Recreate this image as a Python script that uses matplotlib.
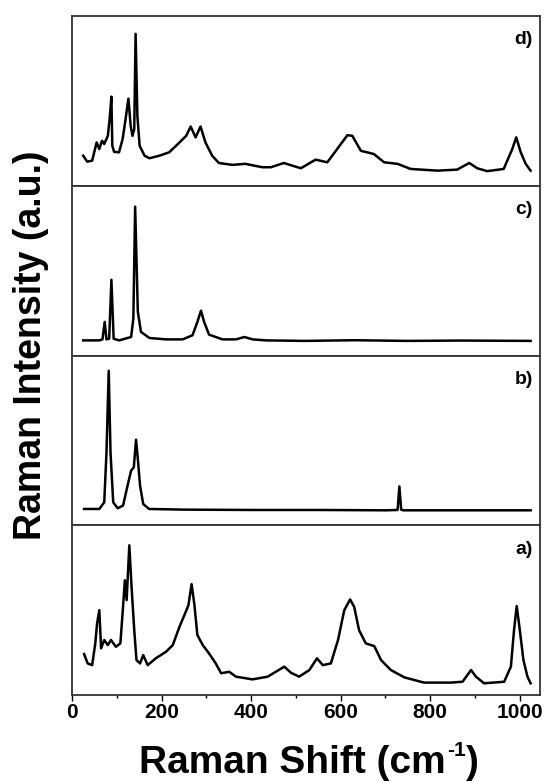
import matplotlib.pyplot as plt
from matplotlib.ticker import MultipleLocator

plt.rcParams["font.family"] = ["Liberation Sans", "DejaVu Sans"]

# spectra, intensity as a fraction of each panel height
d_shift = [25, 34, 45, 55, 61, 67, 72, 80, 84, 88, 90, 94, 105, 113, 118, 126, 131,
           135, 139, 142, 146, 151, 162, 173, 195, 217, 240, 255, 265, 276, 287, 298,
           313, 328, 358, 387, 425, 444, 473, 511, 544, 570, 592, 615, 626, 645, 674,
           697, 727, 756, 816, 860, 887, 905, 927, 964, 983, 992, 1002, 1013, 1024]
d_int = [0.177, 0.142, 0.148, 0.255, 0.216, 0.265, 0.246, 0.294, 0.392, 0.525, 0.236,
         0.200, 0.197, 0.275, 0.363, 0.513, 0.353, 0.294, 0.333, 0.895, 0.411, 0.236,
         0.177, 0.162, 0.177, 0.197, 0.255, 0.294, 0.349, 0.285, 0.349, 0.255, 0.177,
         0.134, 0.123, 0.129, 0.109, 0.109, 0.134, 0.103, 0.154, 0.138, 0.216, 0.298,
         0.294, 0.206, 0.187, 0.138, 0.129, 0.099, 0.089, 0.095, 0.134, 0.103, 0.086,
         0.099, 0.216, 0.285, 0.197, 0.129, 0.089]

c_shift = [25, 61, 68, 73, 77, 83, 88, 93, 105, 132, 137, 141, 147, 154, 173, 210,
           247, 269, 280, 288, 295, 306, 336, 366, 385, 403, 433, 520, 630, 750, 870,
           1024]
c_int = [0.089, 0.089, 0.095, 0.198, 0.095, 0.099, 0.446, 0.099, 0.089, 0.109, 0.218,
         0.877, 0.258, 0.139, 0.103, 0.095, 0.095, 0.119, 0.198, 0.264, 0.198, 0.123,
         0.095, 0.095, 0.109, 0.095, 0.089, 0.086, 0.090, 0.086, 0.088, 0.086]

b_shift = [27, 61, 72, 77, 82, 86, 92, 102, 114, 124, 132, 138, 143, 147, 152, 159,
           172, 250, 400, 550, 700, 727, 731, 735, 740, 850, 1024]
b_int = [0.096, 0.096, 0.135, 0.429, 0.910, 0.429, 0.135, 0.100, 0.116, 0.233, 0.322,
         0.341, 0.504, 0.390, 0.233, 0.125, 0.096, 0.092, 0.090, 0.090, 0.088, 0.090,
         0.229, 0.092, 0.088, 0.088, 0.088]

a_shift = [27, 35, 45, 52, 56, 61, 65, 72, 80, 87, 98, 108, 114, 118, 122, 128, 133,
           139, 144, 152, 159, 169, 187, 210, 225, 240, 251, 260, 267, 273, 280, 292,
           306, 321, 333, 351, 366, 403, 437, 474, 489, 507, 530, 547, 560, 578, 594,
           608, 621, 630, 641, 656, 675, 690, 712, 742, 786, 846, 872, 891, 902, 920,
           965, 980, 987, 993, 999, 1008, 1017, 1024]
a_int = [0.241, 0.186, 0.176, 0.304, 0.422, 0.500, 0.275, 0.324, 0.294, 0.324, 0.284,
         0.304, 0.520, 0.676, 0.559, 0.882, 0.637, 0.382, 0.206, 0.186, 0.235, 0.176,
         0.216, 0.255, 0.294, 0.402, 0.471, 0.529, 0.653, 0.539, 0.353, 0.294, 0.245,
         0.186, 0.128, 0.137, 0.108, 0.092, 0.108, 0.167, 0.131, 0.108, 0.147, 0.216,
         0.176, 0.186, 0.324, 0.500, 0.563, 0.520, 0.382, 0.304, 0.288, 0.206, 0.147,
         0.104, 0.073, 0.073, 0.078, 0.147, 0.108, 0.069, 0.078, 0.167, 0.382, 0.524,
         0.402, 0.206, 0.108, 0.069]

panels = [("d)", d_shift, d_int), ("c)", c_shift, c_int),
          ("b)", b_shift, b_int), ("a)", a_shift, a_int)]

W, H = 546, 782
fig, axes = plt.subplots(4, 1, sharex=True, figsize=(W / 100, H / 100), dpi=100)
fig.subplots_adjust(left=72 / W, right=540 / W, top=1 - 16 / H,
                    bottom=1 - 695 / H, hspace=0)

for ax, (label, x, y) in zip(axes, panels):
    ax.plot(x, y, color="black", lw=1.8)
    ax.set_ylim(0, 1)
    ax.set_yticks([])
    ax.text(0.985, 0.91, label, transform=ax.transAxes, ha="right", va="top",
            fontsize=14, fontweight="bold")
    for s in ax.spines.values():
        s.set_linewidth(1.3)
        s.set_color("#333333")
    ax.tick_params(axis="x", which="both", bottom=False, labelbottom=False)

ax = axes[-1]
ax.set_xlim(0, 1045)
ax.xaxis.set_major_locator(MultipleLocator(200))
ax.xaxis.set_minor_locator(MultipleLocator(100))
ax.tick_params(axis="x", which="both", bottom=True, labelbottom=True, direction="out")
ax.tick_params(axis="x", which="major", length=4, width=1, labelsize=15, pad=2)
ax.tick_params(axis="x", which="minor", length=2.5, width=1)
for t in ax.get_xticklabels():
    t.set_fontweight("bold")

fig.text(31 / W, 1 - 345 / H, "Raman Intensity (a.u.)", ha="center", va="center",
         rotation=90, fontsize=27, fontweight="bold")

# x label with a small raised "-1"
base_y = 1 - 773 / H
t1 = fig.text(139 / W, base_y, "Raman Shift (cm", ha="left", va="baseline",
              fontsize=28, fontweight="bold")
fig.canvas.draw()
r = fig.canvas.get_renderer()
x1 = t1.get_window_extent(r).x1
t2 = fig.text((x1 + 1) / W, base_y + 17 / H, "-1", ha="left", va="baseline",
              fontsize=15, fontweight="bold")
x2 = t2.get_window_extent(r).x1
fig.text((x2 + 1) / W, base_y, ")", ha="left", va="baseline",
         fontsize=28, fontweight="bold")

fig.savefig("out.png", dpi=100)
